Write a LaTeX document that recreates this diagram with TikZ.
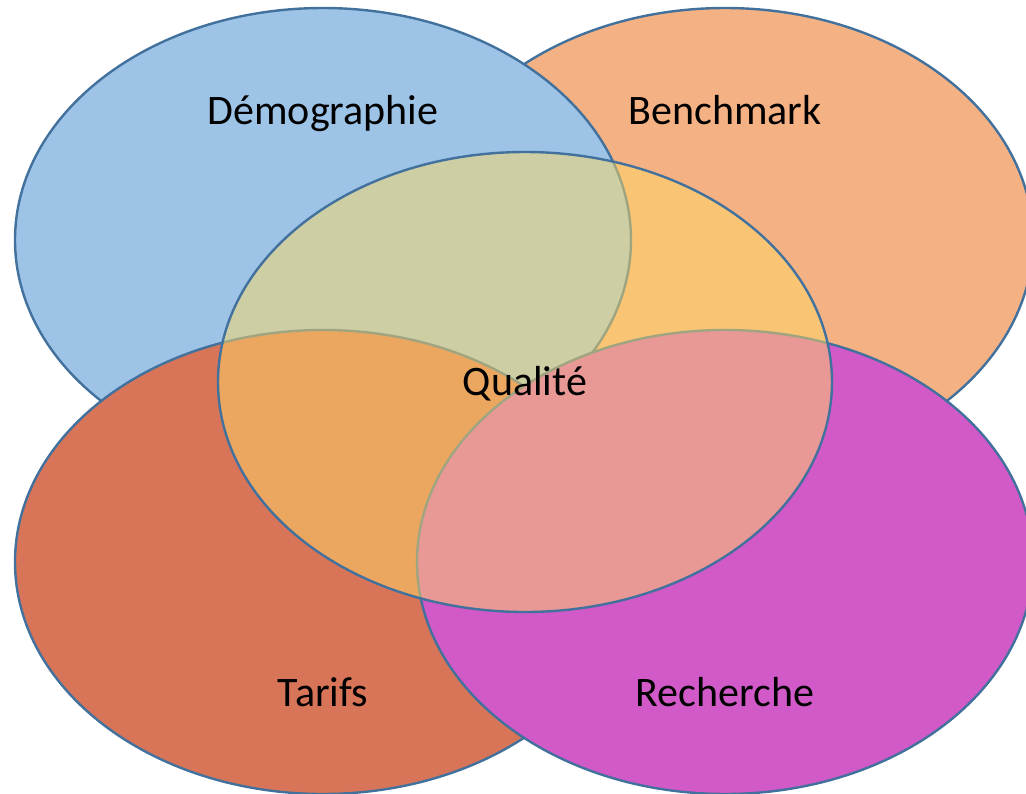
\documentclass[tikz,border=0pt]{standalone}
\usepackage{fontspec}
\setmainfont{Carlito}
\usetikzlibrary{shapes.geometric}
\definecolor{cblue}{RGB}{157,195,230}
\definecolor{corange}{RGB}{244,177,131}
\definecolor{cred}{RGB}{216,117,89}
\definecolor{cmag}{RGB}{210,89,200}
\definecolor{cgold}{RGB}{255,217,102}
\definecolor{cline}{RGB}{65,113,156}
\tikzset{
  blob/.style={ellipse, draw=cline, line width=2.4pt, inner sep=0pt,
    minimum width=616pt, minimum height=464pt},
  lbl/.style={font=\fontsize{42}{50}\selectfont, text=black, inner sep=0pt, anchor=base}
}
\begin{document}
\begin{tikzpicture}[x=1pt,y=-1pt]
\useasboundingbox (0,0) rectangle (1026,793);
\node[blob, fill=corange] (bench) at (725,240) {};
\node[blob, fill=cblue] (demo) at (323,240) {};
\node[blob, fill=cred] (tarif) at (323,562) {};
\node[blob, fill=cmag] (rech) at (725,562) {};
\node[blob, fill=cgold, fill opacity=0.5, minimum width=614pt, minimum height=460pt] (qual) at (525,382) {};
\node[lbl] (tdemo) at (323,124) {Démographie};
\node[lbl] (tbench) at (725,124) {Benchmark};
\node[lbl] (tqual) at (525,395) {Qualité};
\node[lbl] (ttarif) at (323,706) {Tarifs};
\node[lbl] (trech) at (725,706) {Recherche};
\end{tikzpicture}
\end{document}
